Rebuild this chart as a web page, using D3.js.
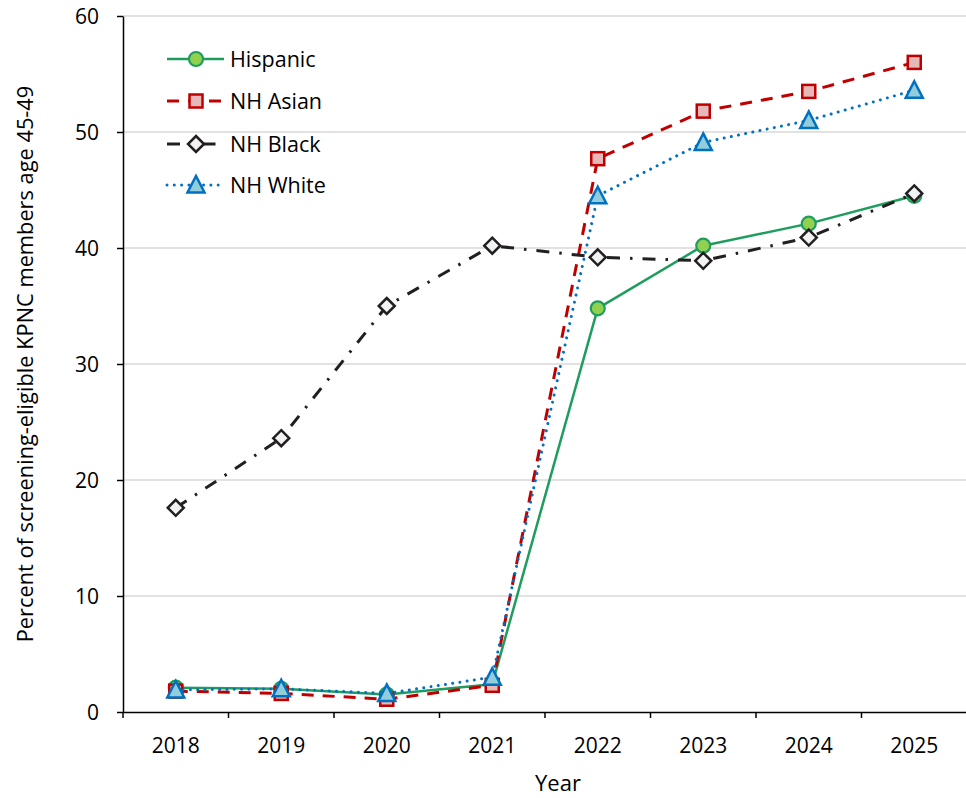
<!DOCTYPE html>
<html>
<head>
<meta charset="utf-8">
<script src="https://cdn.jsdelivr.net/npm/d3@7/dist/d3.min.js"></script>
<style>
  html, body { margin: 0; padding: 0; background: #fff; }
  svg { display: block; font-family: "Open Sans", "Noto Sans", sans-serif; }
</style>
</head>
<body>
<svg id="chart" width="966" height="798"></svg>
<script>
// Screening uptake by race/ethnicity, ages 45-49
const years = ["2018", "2019", "2020", "2021", "2022", "2023", "2024", "2025"];
const hispanic = [2.1, 2.0, 1.5, 2.4, 34.8, 40.2, 42.1, 44.5];
const nhAsian  = [1.8, 1.6, 1.1, 2.3, 47.7, 51.8, 53.5, 56.0];
const nhBlack  = [17.6, 23.6, 35.0, 40.2, 39.2, 38.9, 40.9, 44.7];
const nhWhite  = [1.9, 2.0, 1.6, 3.0, 44.5, 49.1, 51.0, 53.6];
const yTicks = [0, 10, 20, 30, 40, 50, 60];

const series = [
  { name: "Hispanic", values: hispanic, stroke: "#1f9d5f", fill: "#92d050", width: 2.5, dash: null, cap: "butt", marker: "circle" },
  { name: "NH Asian", values: nhAsian, stroke: "#c00000", fill: "#e6b8b7", width: 3, dash: "12 9", cap: "butt", marker: "square" },
  { name: "NH Black", values: nhBlack, stroke: "#231f20", fill: "#f2f2f2", width: 3, dash: "13 10 2.5 10", cap: "butt", marker: "diamond" },
  { name: "NH White", values: nhWhite, stroke: "#0070c0", fill: "#92cddc", width: 3, dash: "0.01 7.3", cap: "round", marker: "triangle" }
];

const FONT = "'Open Sans', 'Noto Sans', sans-serif";
const svg = d3.select("#chart");
const plotLeft = 123, plotRight = 967, plotTop = 16, plotBottom = 712;

const x = d3.scaleBand().domain(years).range([plotLeft, plotRight]);
const y = d3.scaleLinear().domain([0, 60]).range([plotBottom, plotTop]);
const cx = d => x(d) + x.bandwidth() / 2;

// horizontal gridlines
svg.append("g")
  .selectAll("line")
  .data(yTicks.filter(t => t > 0))
  .join("line")
  .attr("x1", plotLeft).attr("x2", plotRight)
  .attr("y1", d => y(d)).attr("y2", d => y(d))
  .attr("stroke", "#d9d9d9").attr("stroke-width", 1.3);

// y axis
const yAxis = svg.append("g")
  .attr("transform", `translate(${plotLeft},0)`)
  .call(d3.axisLeft(y).tickValues(yTicks).tickSize(6).tickPadding(18).tickSizeOuter(0));
yAxis.select(".domain").attr("stroke", "#000").attr("stroke-width", 1.5);
yAxis.selectAll(".tick line").attr("stroke", "#000").attr("stroke-width", 1.5);
yAxis.selectAll(".tick text")
  .attr("font-size", 21).attr("fill", "#000").attr("font-family", FONT)
  .attr("dy", "0.36em");

// x axis: labels at category centres, ticks on category boundaries
const xAxis = svg.append("g")
  .attr("transform", `translate(0,${plotBottom})`)
  .call(d3.axisBottom(x).tickSize(0).tickPadding(0).tickSizeOuter(0));
xAxis.select(".domain").attr("stroke", "#000").attr("stroke-width", 1.5);
xAxis.selectAll(".tick text")
  .attr("font-size", 21).attr("fill", "#000").attr("font-family", FONT)
  .attr("dy", null).attr("y", 40.5);
xAxis.selectAll(".boundary")
  .data(years.map(d => x(d)).concat([plotRight]))
  .join("line")
  .attr("class", "boundary")
  .attr("x1", d => d).attr("x2", d => d)
  .attr("y1", 0).attr("y2", 6)
  .attr("stroke", "#000").attr("stroke-width", 1.5);

// axis titles
svg.append("text")
  .attr("transform", `translate(33,${(plotTop + plotBottom) / 2}) rotate(-90)`)
  .attr("text-anchor", "middle")
  .attr("font-size", 21.8).attr("fill", "#000")
  .text("Percent of screening-eligible KPNC members age 45-49");
svg.append("text")
  .attr("x", 558).attr("y", 791)
  .attr("text-anchor", "middle")
  .attr("font-size", 22).attr("fill", "#000")
  .text("Year");

// marker drawing
function drawMarker(g, s) {
  if (s.marker === "circle") {
    g.append("circle").attr("r", 7);
  } else if (s.marker === "square") {
    g.append("rect").attr("x", -6.5).attr("y", -6.5).attr("width", 13).attr("height", 13);
  } else if (s.marker === "diamond") {
    g.append("path").attr("d", "M0,-8L8,0L0,8L-8,0Z");
  } else {
    g.append("path").attr("d", "M0,-9L8.5,7.5L-8.5,7.5Z");
  }
  g.selectAll("*")
    .attr("fill", s.fill).attr("stroke", s.stroke)
    .attr("stroke-width", s.marker === "circle" ? 2.2 : 2.5)
    .attr("stroke-linejoin", "miter");
}

const line = d3.line().x((d, i) => cx(years[i])).y(d => y(d));

series.forEach(s => {
  const g = svg.append("g");
  g.append("path")
    .attr("d", line(s.values))
    .attr("fill", "none")
    .attr("stroke", s.stroke)
    .attr("stroke-width", s.width)
    .attr("stroke-dasharray", s.dash)
    .attr("stroke-linecap", s.cap)
    .attr("stroke-linejoin", "round");
  s.values.forEach((v, i) => {
    const m = g.append("g").attr("transform", `translate(${cx(years[i])},${y(v)})`);
    drawMarker(m, s);
  });
});

// legend
const legendRows = [59, 101, 144, 185];
series.forEach((s, i) => {
  const g = svg.append("g").attr("transform", `translate(0,${legendRows[i]})`);
  g.append("line")
    .attr("x1", 167).attr("x2", 224).attr("y1", 0).attr("y2", 0)
    .attr("stroke", s.stroke).attr("stroke-width", s.width)
    .attr("stroke-dasharray", s.dash).attr("stroke-linecap", s.cap);
  const m = g.append("g").attr("transform", "translate(196,0)");
  drawMarker(m, s);
  g.append("text")
    .attr("x", 230).attr("y", 0).attr("dy", "0.35em")
    .attr("font-size", 21.5).attr("fill", "#000")
    .text(s.name);
});
</script>
</body>
</html>
